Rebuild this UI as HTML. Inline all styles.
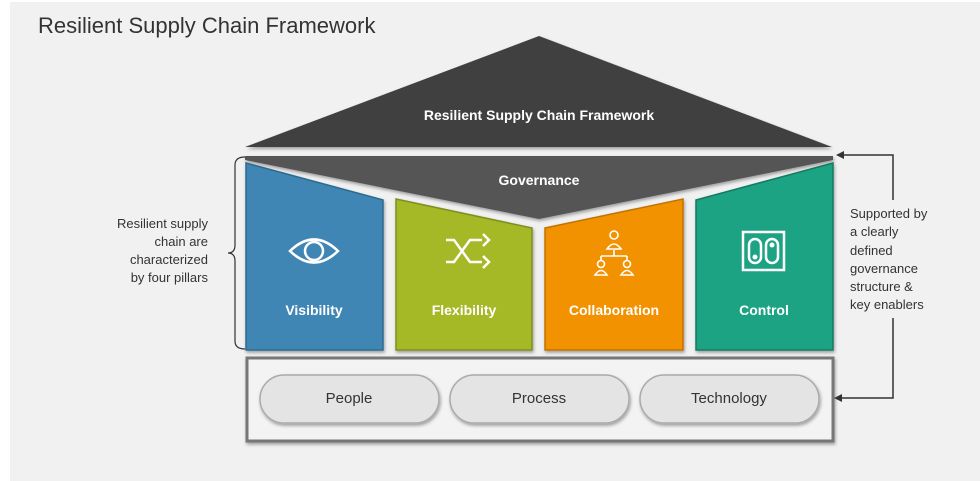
<!DOCTYPE html>
<html><head><meta charset="utf-8"><style>
body{margin:0;width:980px;height:481px;background:#fff;overflow:hidden}
svg{display:block}
text{font-family:"Liberation Sans",sans-serif}
</style></head><body>
<svg width="980" height="481" viewBox="0 0 980 481">
<defs><filter id="sh" x="-5%" y="-5%" width="110%" height="120%"><feDropShadow dx="1" dy="2" stdDeviation="1.5" flood-color="#000" flood-opacity="0.35"/></filter></defs>
<rect x="10" y="2" width="970" height="479" fill="#f1f1f1"/>
<text x="38" y="33" font-size="22" fill="#333">Resilient Supply Chain Framework</text>
<polygon points="539,36 832,147 245,147" fill="#404040" filter="url(#sh)"/>
<text x="539" y="120" font-size="14" font-weight="bold" fill="#fff" text-anchor="middle">Resilient Supply Chain Framework</text>
<polygon points="245,156 833,156 833,160 539,219 245,160" fill="#555" filter="url(#sh)"/>
<text x="539" y="185" font-size="14" font-weight="bold" fill="#fff" text-anchor="middle">Governance</text>
<g filter="url(#sh)">
<polygon points="246,163 383,200 383,350 246,350" fill="#3f86b5" stroke="#2f6a90" stroke-width="1.5"/>
<polygon points="396,199 532,228 532,350 396,350" fill="#a5b827" stroke="#7f8f1c" stroke-width="1.5"/>
<polygon points="545,228 683,199 683,350 545,350" fill="#f39200" stroke="#c07300" stroke-width="1.5"/>
<polygon points="696,200 833,163 833,350 696,350" fill="#1ea383" stroke="#137a61" stroke-width="1.5"/>
</g>
<g fill="none" stroke="#fff" stroke-width="2.5">
<path d="M290,251 Q314,228 338,251 Q314,274 290,251Z"/>
<circle cx="314" cy="251" r="9"/>
<path d="M446,240 h8 l16,22 h12 M446,262 h8 l16,-22 h12"/>
<path d="M483,234 l6,6 l-6,6 M483,256 l6,6 l-6,6"/>
<rect x="743" y="232" width="41" height="38"/>
<rect x="749" y="239" width="12" height="24" rx="6"/>
<rect x="766" y="239" width="12" height="24" rx="6"/>
</g>
<g fill="#fff"><circle cx="755" cy="257" r="2.5"/><circle cx="772" cy="245" r="2.5"/></g>
<g fill="none" stroke="#fff" stroke-width="1.6">
<circle cx="614" cy="235" r="4"/><path d="M607,249 q7,-10 14,0z"/>
<path d="M614,250 v6 M601,256 h26 M601,256 v4 M627,256 v4"/>
<circle cx="601" cy="264" r="3.5"/><path d="M595,275 q6,-9 12,0z"/>
<circle cx="627" cy="264" r="3.5"/><path d="M621,275 q6,-9 12,0z"/>
</g>
<g font-size="14" font-weight="bold" fill="#fff" text-anchor="middle">
<text x="314" y="315">Visibility</text>
<text x="464" y="315">Flexibility</text>
<text x="614" y="315">Collaboration</text>
<text x="764" y="315">Control</text>
</g>
<rect x="247" y="358" width="586" height="83" fill="#f3f3f3" stroke="#777" stroke-width="3" filter="url(#sh)"/>
<g fill="#e4e4e4" stroke="#aaa" stroke-width="1.5" filter="url(#sh)">
<rect x="260" y="375" width="179" height="48" rx="24"/>
<rect x="450" y="375" width="179" height="48" rx="24"/>
<rect x="640" y="375" width="179" height="48" rx="24"/>
</g>
<g font-size="15" fill="#333" text-anchor="middle">
<text x="349" y="403">People</text>
<text x="539" y="403">Process</text>
<text x="729" y="403">Technology</text>
</g>
<path d="M245,157 q-10,0 -10,8 v80 q0,8 -7,8 q7,0 7,8 v80 q0,8 10,8" fill="none" stroke="#333" stroke-width="1.2"/>
<g font-size="13" fill="#333" text-anchor="end">
<text x="208" y="228">Resilient supply</text>
<text x="208" y="246">chain are</text>
<text x="208" y="264">characterized</text>
<text x="208" y="282">by four pillars</text>
</g>
<g fill="none" stroke="#333" stroke-width="1.5">
<path d="M893,200 V155 H842"/>
<path d="M893,318 V398 H838"/>
</g>
<polygon points="836,155 844,151 844,159" fill="#333"/>
<polygon points="834,398 842,394 842,402" fill="#333"/>
<g font-size="13" fill="#333">
<text x="850" y="218">Supported by</text>
<text x="850" y="236">a clearly</text>
<text x="850" y="255">defined</text>
<text x="850" y="273">governance</text>
<text x="850" y="291">structure &amp;</text>
<text x="850" y="309">key enablers</text>
</g>
</svg>
</body></html>
